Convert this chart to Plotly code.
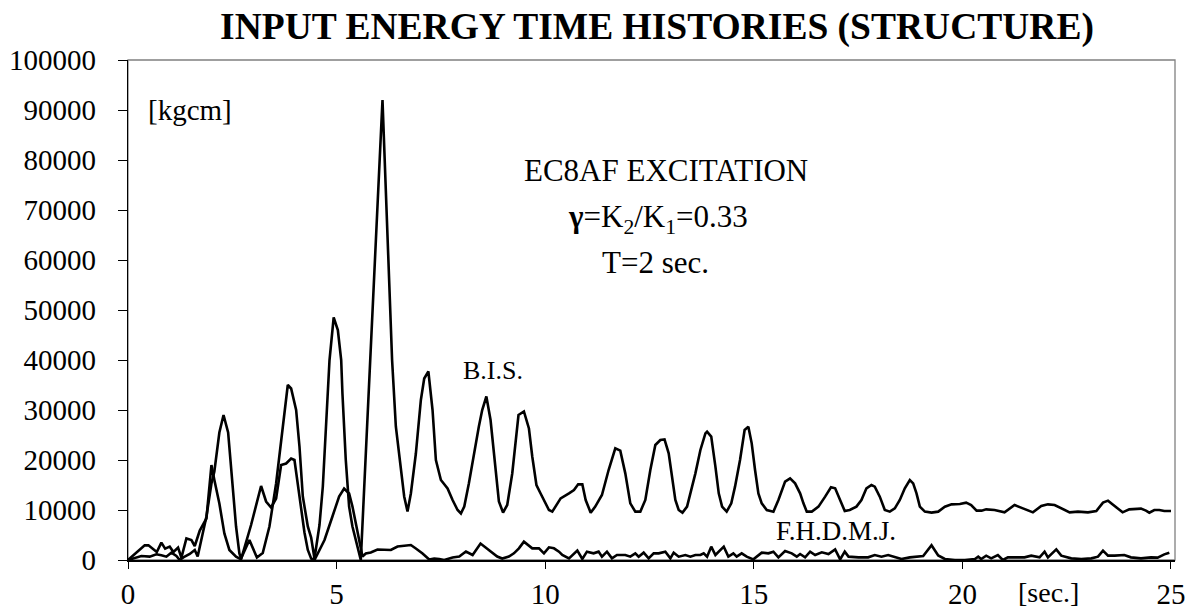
import plotly.graph_objects as go

# ---- data (time [sec], energy [kgcm]) ----
bis_data = [
    (0, 0), (0.16, 470), (0.32, 800), (0.52, 670), (0.68, 1130), (0.80, 930), (0.92, 670),
    (1.04, 1470), (1.16, 800), (1.24, 0), (1.36, 700), (1.48, 1200), (1.60, 2000), (1.67, 700),
    (1.79, 5000), (1.88, 8700), (2.00, 15300), (2.07, 17700), (2.19, 25500), (2.29, 29000),
    (2.40, 25500), (2.51, 15300), (2.59, 6700), (2.67, 1300), (2.71, 300), (2.91, 4000),
    (3.09, 500), (3.23, 1400), (3.39, 6700), (3.55, 15300), (3.71, 27300), (3.83, 35000),
    (3.91, 34300), (4.03, 30000), (4.11, 22700), (4.19, 12700), (4.31, 6700), (4.39, 4500),
    (4.47, 300), (4.51, 2700), (4.59, 7000), (4.67, 14700), (4.75, 26700), (4.83, 40000),
    (4.93, 48500), (5.03, 46000), (5.11, 40000), (5.14, 33300), (5.22, 20000), (5.30, 10700),
    (5.38, 6700), (5.50, 2700), (5.58, 0), (6.10, 92000), (6.33, 40000), (6.42, 26700),
    (6.54, 18000), (6.62, 12700), (6.70, 9700), (6.78, 13300), (6.90, 21300), (7.02, 32000),
    (7.10, 36300), (7.20, 37700), (7.30, 30000), (7.38, 20000), (7.50, 16000), (7.66, 14300),
    (7.78, 12000), (7.90, 10000), (7.98, 9300), (8.06, 10700), (8.17, 15300), (8.29, 21300),
    (8.41, 26700), (8.49, 30000), (8.59, 32700), (8.69, 28000), (8.81, 18700), (8.89, 11700),
    (8.99, 9500), (9.09, 11000), (9.21, 17300), (9.36, 29000), (9.49, 29700), (9.61, 26300),
    (9.69, 20700), (9.79, 15000), (9.89, 13300), (9.97, 12000), (10.09, 10000), (10.17, 9670),
    (10.37, 12330), (10.57, 13330), (10.69, 14000), (10.79, 15130), (10.89, 15130), (10.97, 12000),
    (11.09, 9470), (11.20, 10670), (11.36, 13000), (11.52, 18000), (11.68, 22330), (11.80, 21870),
    (11.92, 17330), (12.04, 11330), (12.16, 9670), (12.28, 9670), (12.40, 12000), (12.52, 18000),
    (12.64, 23000), (12.76, 24000), (12.86, 24130), (12.96, 21330), (13.04, 16670), (13.12, 12000),
    (13.20, 10000), (13.29, 9470), (13.40, 10670), (13.48, 13330), (13.60, 17330), (13.72, 22000),
    (13.84, 25330), (13.88, 25670), (13.98, 24670), (14.08, 18670), (14.16, 13330), (14.24, 10670),
    (14.35, 9670), (14.46, 11330), (14.55, 14670), (14.67, 20000), (14.78, 26000), (14.87, 26670),
    (14.95, 23330), (15.03, 18000), (15.11, 13330), (15.19, 11330), (15.31, 10000), (15.47, 9670),
    (15.59, 12000), (15.75, 15670), (15.87, 16330), (15.99, 15330), (16.11, 13330), (16.19, 11330),
    (16.27, 9670), (16.39, 9670), (16.55, 10670), (16.71, 12670), (16.85, 14530), (16.95, 14330),
    (17.07, 12000), (17.18, 9800), (17.30, 10000), (17.46, 10670), (17.58, 12000), (17.70, 14330),
    (17.82, 15000), (17.90, 14670), (18.02, 12670), (18.14, 10000), (18.26, 9670), (18.38, 10330),
    (18.50, 12000), (18.62, 14330), (18.74, 16000), (18.82, 15330), (18.90, 13330), (18.98, 10670),
    (19.10, 9670), (19.26, 9470), (19.42, 9670), (19.58, 10670), (19.74, 11130), (19.94, 11200),
    (20.09, 11470), (20.21, 11000), (20.34, 9870), (20.46, 9870), (20.57, 10130), (20.77, 10000),
    (21.01, 9530), (21.25, 11000), (21.45, 10330), (21.69, 9530), (21.89, 10800), (22.05, 11130),
    (22.21, 11000), (22.37, 10330), (22.57, 9530), (22.77, 9670), (23.01, 9530), (23.21, 9800),
    (23.37, 11470), (23.49, 11870), (23.61, 11130), (23.84, 9530), (24.00, 10130), (24.28, 10270),
    (24.40, 9870), (24.48, 9470), (24.60, 10000), (24.72, 10000), (24.84, 9800), (25.00, 9800),
]

fhdmj_data = [
    (0, 0), (0.20, 1470), (0.40, 2930), (0.49, 2930), (0.60, 2130), (0.69, 1600), (0.80, 3470),
    (0.89, 2270), (1.00, 2670), (1.09, 1600), (1.20, 2470), (1.28, 470), (1.40, 4300),
    (1.52, 4000), (1.60, 2800), (1.72, 5900), (1.88, 8300), (2.00, 19000), (2.07, 16000),
    (2.19, 11300), (2.31, 5300), (2.43, 2000), (2.59, 670), (2.71, 130), (2.95, 7000),
    (3.19, 14800), (3.31, 11700), (3.43, 10500), (3.55, 12300), (3.67, 19000), (3.79, 19300),
    (3.91, 20300), (3.99, 20000), (4.07, 15000), (4.15, 10000), (4.23, 5500), (4.31, 2000),
    (4.39, 300), (4.47, 0), (4.51, 700), (4.71, 4000), (4.90, 8700), (5.06, 12700), (5.18, 14300),
    (5.30, 13300), (5.38, 10700), (5.46, 7300), (5.54, 4000), (5.62, 700), (5.70, 1300),
    (5.82, 1500), (5.98, 2100), (6.30, 2000), (6.46, 2700), (6.78, 3000), (6.90, 2300),
    (7.06, 1300), (7.22, 100), (7.34, 300), (7.46, 200), (7.58, 0), (7.78, 500), (7.94, 700),
    (8.10, 1700), (8.26, 1000), (8.45, 3300), (8.65, 2000), (8.85, 700), (8.97, 300), (9.13, 700),
    (9.25, 1330), (9.37, 2330), (9.49, 3670), (9.61, 2800), (9.69, 2330), (9.85, 2330),
    (9.97, 1330), (10.09, 2530), (10.21, 2330), (10.33, 1670), (10.41, 1000), (10.57, 330),
    (10.77, 1870), (10.89, 200), (11.00, 1670), (11.16, 1330), (11.28, 1670), (11.36, 670),
    (11.48, 1670), (11.60, 330), (11.72, 1000), (11.92, 1000), (12.04, 670), (12.16, 1330),
    (12.24, 670), (12.36, 1470), (12.48, 330), (12.60, 1330), (12.72, 1330), (12.88, 1670),
    (13.00, 330), (13.08, 1470), (13.20, 670), (13.36, 1000), (13.48, 670), (13.60, 1000),
    (13.72, 1000), (13.80, 1330), (13.88, 670), (13.98, 2670), (14.08, 1000), (14.28, 2670),
    (14.39, 670), (14.51, 1330), (14.59, 670), (14.71, 1330), (14.83, 670), (14.99, 130),
    (15.19, 1470), (15.35, 1330), (15.47, 1670), (15.59, 530), (15.75, 1800), (15.91, 1330),
    (16.03, 670), (16.11, 1200), (16.23, 530), (16.35, 1670), (16.47, 1000), (16.63, 1530),
    (16.79, 1200), (16.95, 2130), (17.07, 130), (17.18, 1670), (17.27, 670), (17.51, 530),
    (17.74, 530), (17.90, 1000), (18.06, 670), (18.22, 1000), (18.38, 670), (18.54, 200),
    (18.74, 530), (19.06, 800), (19.26, 2950), (19.42, 900), (19.58, 200), (19.82, 0),
    (20.06, 0), (20.30, 200), (20.38, 670), (20.45, 200), (20.57, 870), (20.69, 330),
    (20.85, 1000), (20.97, 0), (21.09, 530), (21.25, 470), (21.49, 530), (21.65, 870),
    (21.85, 530), (21.97, 1670), (22.05, 530), (22.25, 2130), (22.37, 870), (22.61, 330),
    (22.85, 200), (23.09, 330), (23.25, 670), (23.37, 1870), (23.49, 870), (23.65, 870),
    (23.88, 1000), (24.04, 530), (24.28, 330), (24.52, 530), (24.68, 470), (24.84, 1130),
    (24.96, 1470),
]

bis_t = [p[0] for p in bis_data]
bis_e = [p[1] for p in bis_data]
fhdmj_t = [p[0] for p in fhdmj_data]
fhdmj_e = [p[1] for p in fhdmj_data]

x_ticks = [0, 5, 10, 15, 20, 25]
y_ticks = list(range(0, 100001, 10000))

FONT = "Times New Roman, Liberation Serif, Tinos, serif"

fig = go.Figure()
fig.add_trace(go.Scatter(x=fhdmj_t, y=fhdmj_e, mode="lines", name="F.H.D.M.J.",
                         line=dict(color="black", width=2.6)))
fig.add_trace(go.Scatter(x=bis_t, y=bis_e, mode="lines", name="B.I.S.",
                         line=dict(color="black", width=2.6)))

fig.update_layout(
    width=1197, height=615,
    margin=dict(l=128, r=22, t=60, b=55, autoexpand=False),
    plot_bgcolor="white", paper_bgcolor="white",
    showlegend=False,
    font=dict(family=FONT, color="black"),
    title=dict(text="<b>INPUT ENERGY TIME HISTORIES (STRUCTURE)</b>",
               font=dict(family=FONT, size=37.5, color="black"),
               x=657 / 1197, xanchor="center", xref="container",
               y=1 - 26 / 615, yanchor="middle", yref="container"),
)

fig.update_xaxes(
    range=[0, 25.096], tickvals=x_ticks, ticktext=[str(v) for v in x_ticks],
    ticks="outside", ticklen=7, tickwidth=1.3, tickcolor="black",
    showline=True, linecolor="black", linewidth=1.6,
    showgrid=False, zeroline=False, automargin=False,
    tickfont=dict(family=FONT, size=29, color="black"),
    ticklabelstandoff=0,
)
fig.update_yaxes(
    range=[0, 100000], tickvals=y_ticks, ticktext=[str(v) for v in y_ticks],
    ticks="outside", ticklen=9, tickwidth=1.3, tickcolor="black",
    showline=True, linecolor="black", linewidth=1.3,
    showgrid=False, zeroline=False, automargin=False,
    tickfont=dict(family=FONT, size=29, color="black"),
    ticklabelstandoff=16,
)

# plot-area border (gray, like the original)
fig.add_shape(type="rect", xref="x domain", yref="y domain", x0=0, x1=1, y0=0, y1=1,
              line=dict(color="#808080", width=1.3), layer="below")

def note(text, x, y, size, xanchor="center", xref="x", yref="y"):
    fig.add_annotation(text=text, x=x, y=y, xref=xref, yref=yref, showarrow=False,
                       xanchor=xanchor, yanchor="middle",
                       font=dict(family=FONT, size=size, color="black"))

note("[kgcm]", 0.42, 90000, 29, xanchor="left")
note("EC8AF EXCITATION", 12.9, 78000, 31)
note("<b>γ</b>=K<sub>2</sub>/K<sub>1</sub>=0.33", 12.7, 68300, 31)
note("T=2 sec.", 12.65, 59600, 31)
note("B.I.S.", 8.74, 38000, 26)
note("F.H.D.M.J.", 16.96, 5800, 27)
fig.add_annotation(text="[sec.]", x=22.07, xref="x", y=-0.064, yref="paper",
                   showarrow=False, xanchor="center", yanchor="middle",
                   font=dict(family=FONT, size=28, color="black"))

fig.write_html("out.html")
